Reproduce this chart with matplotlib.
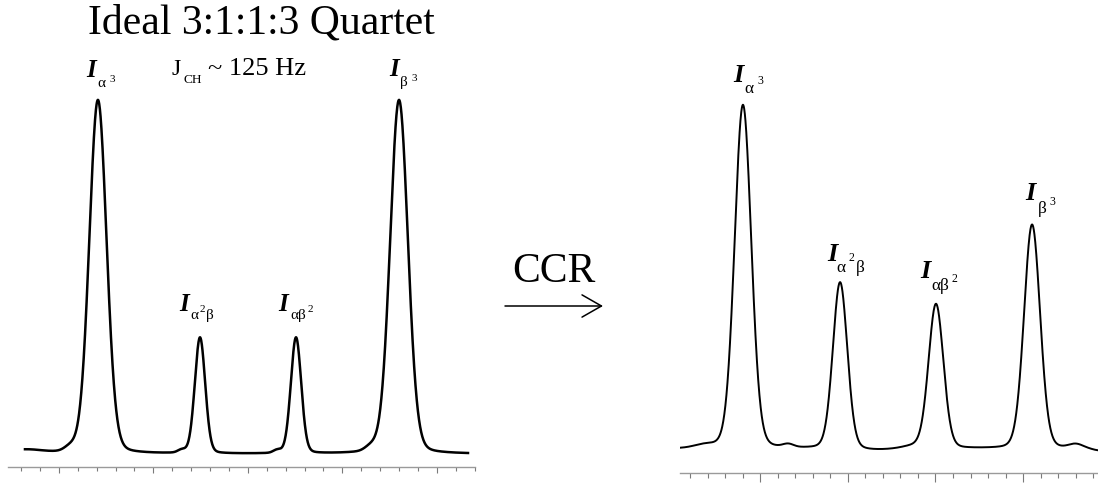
import numpy as np
import matplotlib.pyplot as plt
from matplotlib.transforms import offset_copy

plt.rcParams['font.family'] = ['Liberation Serif', 'DejaVu Serif']

W, H = 1098, 485

# ideal spectrum (left), units: minor tick spacing / tallest peak = 1
ideal_pos = [4.07, 9.47, 14.55, 20.0]
ideal_height = [1.0, 0.328, 0.328, 1.0]
ideal_fwhm = [1.08, 0.65, 0.65, 1.11]
ideal_bump_pos = [0.2, 2.6, 8.5, 13.55, 18.5]
ideal_bump_height = [0.011, 0.012, 0.008, 0.008, 0.012]
ideal_bump_width = [0.9, 0.3, 0.2, 0.2, 0.3]

# after cross-correlated relaxation (right)
ccr_pos = [3.02, 8.56, 14.03, 19.51]
ccr_height = [1.0, 0.484, 0.420, 0.652]
ccr_fwhm = [1.12, 0.97, 1.0, 1.08]
ccr_bump_pos = [0.86, 5.6, 10.5, 12.8, 22.0, 23.4]
ccr_bump_height = [0.009, 0.009, -0.005, 0.006, 0.012, -0.006]
ccr_bump_width = [0.6, 0.3, 1.0, 0.6, 0.4, 0.4]


def spectrum(x, pos, height, fwhm, bpos, bheight, bwidth, eta=0.12):
    y = np.zeros_like(x)
    for c, h, w in zip(pos, height, fwhm):
        d = (x - c) / w
        y += h * ((1 - eta) * np.exp(-4 * np.log(2) * d ** 2) + eta / (1 + 4 * d ** 2))
    for c, h, w in zip(bpos, bheight, bwidth):
        y += h * np.exp(-0.5 * ((x - c) / w) ** 2)
    return y


fig = plt.figure(figsize=(W / 100, H / 100), dpi=100)

# left panel
ax1 = fig.add_axes([8 / W, 1 - 468 / H, 467 / W, 408 / H])
x1 = np.linspace(0.21, 23.65, 2000)
ax1.plot(x1, spectrum(x1, ideal_pos, ideal_height, ideal_fwhm,
                      ideal_bump_pos, ideal_bump_height, ideal_bump_width),
         color='black', lw=1.8)
ax1.set_xlim(-0.688, 24.02)
ax1.set_ylim(-0.0367, 1.1158)

# right panel
ax2 = fig.add_axes([680 / W, 1 - 474 / H, 418 / W, 414 / H])
x2 = np.linspace(-0.57, 23.27, 2000)
ax2.plot(x2, spectrum(x2, ccr_pos, ccr_height, ccr_fwhm,
                      ccr_bump_pos, ccr_bump_height, ccr_bump_width),
         color='black', lw=1.4)
ax2.set_xlim(-0.57, 23.27)
ax2.set_ylim(-0.0698, 1.1337)

for ax, nt, first_major, ml, mj in [(ax1, 25, 2, 2.6, 4.5), (ax2, 24, 4, 3.6, 6.5)]:
    for s in ['top', 'right', 'left']:
        ax.spines[s].set_visible(False)
    ax.spines['bottom'].set_color('#9a9a9a')
    ax.spines['bottom'].set_linewidth(1.0)
    ax.set_yticks([])
    ticks = np.arange(nt)
    ax.set_xticks(ticks[first_major::5])
    ax.set_xticks(ticks, minor=True)
    ax.tick_params(axis='x', which='major', direction='out', length=mj,
                   width=0.8, color='#7a7a7a', labelbottom=False)
    ax.tick_params(axis='x', which='minor', direction='out', length=ml,
                   width=0.8, color='#7a7a7a')
    ax.patch.set_alpha(0)

# peak labels: pieces (text, dx, dy, size, bold-italic) relative to peak apex, in pixels
ideal_labels = [
    [('I', -12, 24, 18, True), ('α', -1, 14, 11, False), ('3', 12, 19, 8, False)],
    [('I', -21, 28, 18, True), ('α', -10, 20, 11, False), ('2', 0, 27, 8, False), ('β', 6, 20, 11, False)],
    [('I', -18, 28, 18, True), ('αβ', -6, 20, 11, False), ('2', 12, 27, 8, False)],
    [('I', -10, 25, 18, True), ('β', 1, 15, 11, False), ('3', 12, 20, 8, False)],
]
ccr_labels = [
    [('I', -10, 24, 19, True), ('α', 1, 13, 12.5, False), ('3', 14, 22, 8.5, False)],
    [('I', -13, 22, 19, True), ('α', -4, 11, 12.5, False), ('2', 8, 22, 8.5, False), ('β', 16, 11, 12.5, False)],
    [('I', -16, 28, 19, True), ('αβ', -5, 16, 12.5, False), ('2', 16, 24, 8.5, False)],
    [('I', -7, 26, 19, True), ('β', 6, 13, 12.5, False), ('3', 17, 21, 8.5, False)],
]

for ax, pos, height, labels in [(ax1, ideal_pos, ideal_height, ideal_labels),
                                (ax2, ccr_pos, ccr_height, ccr_labels)]:
    for c, h, pieces in zip(pos, height, labels):
        for txt, dx, dy, size, bi in pieces:
            tr = offset_copy(ax.transData, fig=fig, x=dx, y=dy, units='dots')
            ax.text(c, h, txt, transform=tr, fontsize=size, ha='left', va='baseline',
                    fontweight='bold' if bi else 'normal',
                    fontstyle='italic' if bi else 'normal', clip_on=False)

# title and coupling constant
fig.text(261 / W, 1 - 33 / H, 'Ideal 3:1:1:3 Quartet', fontsize=30,
         ha='center', va='baseline')
fig.text(172 / W, 1 - 75 / H, 'J', fontsize=17, ha='left', va='baseline')
fig.text(183 / W, 1 - 83 / H, 'CH', fontsize=9.5, ha='left', va='baseline')
fig.text(208 / W, 1 - 75 / H, '~ 125 Hz', fontsize=19, ha='left', va='baseline')

# CCR arrow
fig.text(554 / W, 1 - 282 / H, 'CCR', fontsize=30, ha='center', va='baseline')
ax1.annotate('', xy=(603 / W, 1 - 307 / H), xytext=(505 / W, 1 - 307 / H),
             xycoords='figure fraction', textcoords='figure fraction',
             arrowprops=dict(arrowstyle='->, head_length=0.7, head_width=0.4',
                             mutation_scale=20, lw=1.1, color='black',
                             shrinkA=0, shrinkB=0),
             annotation_clip=False)

fig.savefig('out.png', dpi=100)
